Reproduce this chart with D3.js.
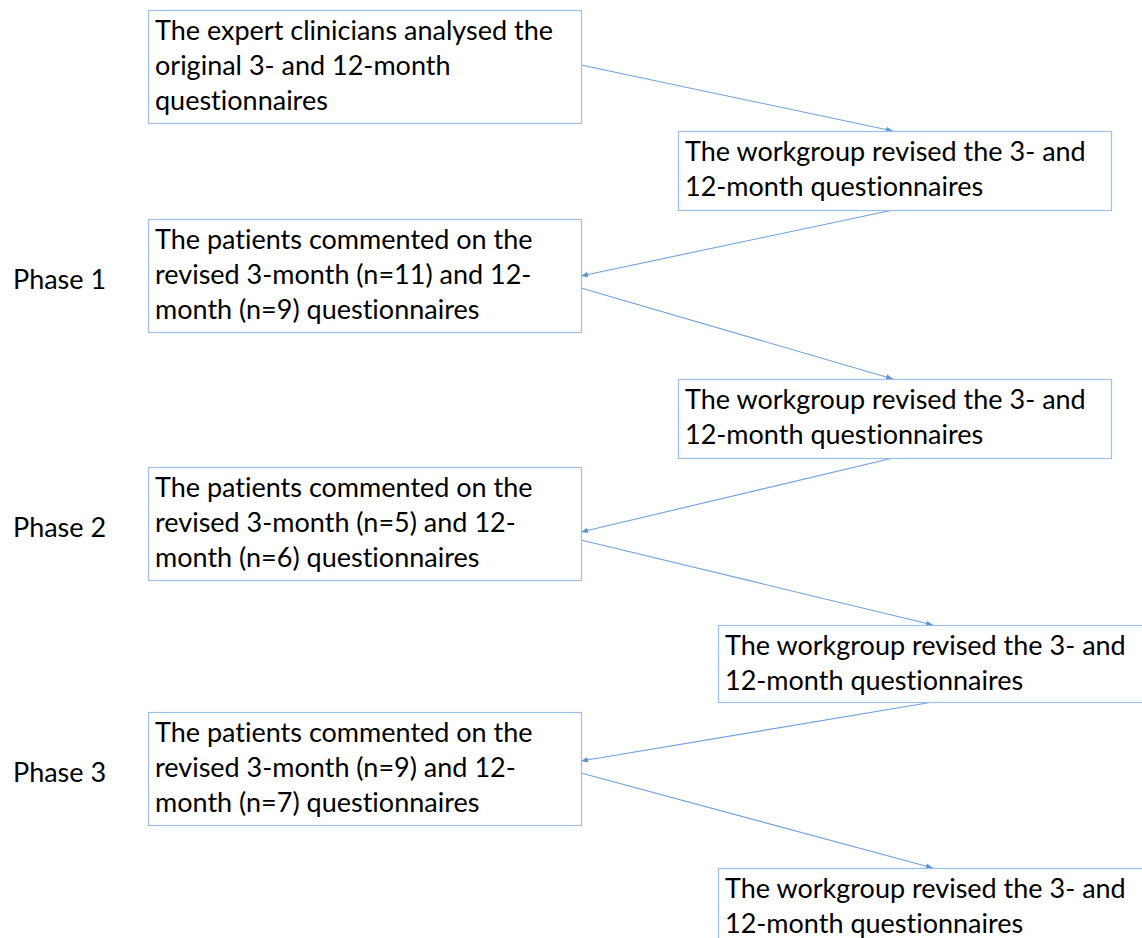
<!DOCTYPE html>
<html><head><meta charset="utf-8">
<script src="https://cdn.jsdelivr.net/npm/d3@7"></script>
<style>html,body{margin:0;padding:0;background:#fff;overflow:hidden} text{font-variant-ligatures:none;font-feature-settings:"liga" 0,"clig" 0}</style>
</head><body>
<svg id="c" width="1142" height="938"></svg>
<script>
// ---- data ----
const phases = ["Phase 1", "Phase 2", "Phase 3"];
const analysisText = ["The expert clinicians analysed the", "original 3- and 12-month", "questionnaires"];
const revisionText = ["The workgroup revised the 3- and", "12-month questionnaires"];
const n3month = [11, 5, 9];
const n12month = [9, 6, 7];
const patientText = (a, b) => ["The patients commented on the", `revised 3-month (n=${a}) and 12-`, `month (n=${b}) questionnaires`];

// ---- layout ----
const svg = d3.select("#c");
const FONT = "Lato, 'Open Sans', sans-serif";
const FS = 27;
const lineColor = "#6fa3dc", boxColor = "#9cc0e8";
const W = 433;

svg.append("defs").append("marker")
  .attr("id", "ah").attr("viewBox", "0 0 10 10").attr("refX", 10).attr("refY", 5)
  .attr("markerWidth", 7).attr("markerHeight", 7).attr("markerUnits", "userSpaceOnUse")
  .attr("orient", "auto")
  .append("path").attr("d", "M0,1 L10,5 L0,9 Z").attr("fill", "#5b93d3");

const nodes = [
  {x: 148, y: 10, h: 113, lines: analysisText},
  {x: 678, y: 131, h: 79, lines: revisionText},
  {x: 148, y: 219, h: 113, lines: patientText(n3month[0], n12month[0]), phase: 0},
  {x: 678, y: 379, h: 79, lines: revisionText},
  {x: 148, y: 467, h: 113, lines: patientText(n3month[1], n12month[1]), phase: 1},
  {x: 718, y: 625, h: 77, lines: revisionText},
  {x: 148, y: 712, h: 113, lines: patientText(n3month[2], n12month[2]), phase: 2},
  {x: 718, y: 868, h: 79, lines: revisionText}
];

const edges = [
  [[581, 65], [893, 131]],
  [[893, 210], [581, 276]],
  [[581, 288], [893, 379]],
  [[893, 458], [581, 532]],
  [[581, 540], [933, 625]],
  [[933, 702], [581, 761]],
  [[581, 773], [933, 868]]
];

svg.selectAll("line.e").data(edges).join("line")
  .attr("class", "e")
  .attr("x1", d => d[0][0]).attr("y1", d => d[0][1])
  .attr("x2", d => d[1][0]).attr("y2", d => d[1][1])
  .attr("stroke", lineColor).attr("stroke-width", 1.1)
  .attr("marker-end", "url(#ah)");

const g = svg.selectAll("g.n").data(nodes).join("g").attr("class", "n")
  .attr("transform", d => `translate(${d.x},${d.y})`);
g.append("rect").attr("x", 0.5).attr("y", 0.5).attr("width", W).attr("height", d => d.h)
  .attr("fill", "#fff").attr("stroke", boxColor).attr("stroke-width", 1.2);
g.each(function(d) {
  const t = d3.select(this).append("text")
    .attr("font-family", FONT).attr("font-size", FS).attr("fill", "#000");
  t.selectAll("tspan").data(d.lines).join("tspan")
    .attr("x", 7).attr("y", (l, i) => 30 + i * 35).text(l => l);
});

svg.selectAll("text.ph").data(nodes.filter(d => d.phase !== undefined)).join("text")
  .attr("class", "ph").attr("x", 13).attr("y", d => d.y + 70)
  .attr("font-family", FONT).attr("font-size", FS).attr("fill", "#000")
  .text(d => phases[d.phase]);
</script>
</body></html>
